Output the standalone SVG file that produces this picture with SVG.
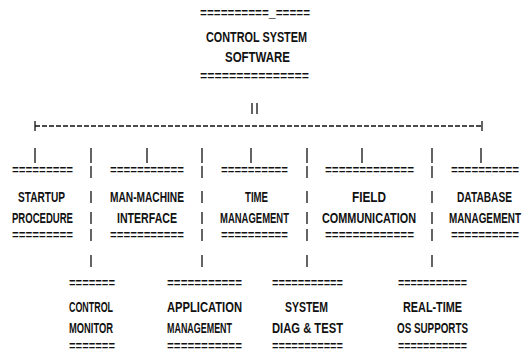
<svg xmlns="http://www.w3.org/2000/svg" width="527" height="354" viewBox="0 0 527 354">
<style>
.t{font-family:"Liberation Sans",Arial,sans-serif;font-size:14px;font-weight:bold;fill:#111}
.eq{font-family:"Liberation Mono","Courier New",monospace;font-size:12px;font-weight:bold;fill:#111}
.c{stroke:#111;stroke-width:1.3;fill:none}
.d{stroke:#111;stroke-width:1.3;fill:none;stroke-dasharray:5 2}
</style>
<rect width="527" height="354" fill="#fff"/>
<g id="connectors">
<path class="c" d="M252 103V114M257 103V114"/>
<path class="d" d="M35 126H482"/>
<path class="c" d="M35 121V131M482 121V131"/>
<path class="c" d="M35 148V163M147 148V163M251 148V163M362 148V163M481 148V163"/>
<path class="c" d="M91 148V163M91 166V178M91 191V203M91 212V224M91 229V241M91 255V267"/>
<path class="c" d="M202 148V163M202 166V178M202 191V203M202 212V224M202 229V241M202 255V267"/>
<path class="c" d="M307 148V163M307 166V178M307 191V203M307 212V224M307 229V241M307 255V267"/>
<path class="c" d="M432 148V163M432 166V178M432 191V203M432 212V224M432 229V241M432 255V267"/>
</g>
<g id="n-root">
<text class="eq" x="200" y="17" textLength="110" lengthAdjust="spacingAndGlyphs">==========_=====</text>
<text class="t" x="206" y="42" textLength="101" lengthAdjust="spacingAndGlyphs">CONTROL SYSTEM</text>
<text class="t" x="225" y="62" textLength="65" lengthAdjust="spacingAndGlyphs">SOFTWARE</text>
<text class="eq" x="200" y="80" textLength="109" lengthAdjust="spacingAndGlyphs">===============</text>
</g>
<g id="n-startup">
<text class="eq" x="12" y="174" textLength="61" lengthAdjust="spacingAndGlyphs">=========</text>
<text class="t" x="18" y="202" textLength="47" lengthAdjust="spacingAndGlyphs">STARTUP</text>
<text class="t" x="12" y="223" textLength="61" lengthAdjust="spacingAndGlyphs">PROCEDURE</text>
<text class="eq" x="12" y="239" textLength="61" lengthAdjust="spacingAndGlyphs">=========</text>
</g>
<g id="n-mmi">
<text class="eq" x="110" y="174" textLength="74" lengthAdjust="spacingAndGlyphs">===========</text>
<text class="t" x="110" y="202" textLength="74" lengthAdjust="spacingAndGlyphs">MAN-MACHINE</text>
<text class="t" x="117" y="223" textLength="60" lengthAdjust="spacingAndGlyphs">INTERFACE</text>
<text class="eq" x="110" y="239" textLength="74" lengthAdjust="spacingAndGlyphs">===========</text>
</g>
<g id="n-time">
<text class="eq" x="221" y="174" textLength="67" lengthAdjust="spacingAndGlyphs">==========</text>
<text class="t" x="245" y="202" textLength="23" lengthAdjust="spacingAndGlyphs">TIME</text>
<text class="t" x="220" y="223" textLength="69" lengthAdjust="spacingAndGlyphs">MANAGEMENT</text>
<text class="eq" x="221" y="239" textLength="67" lengthAdjust="spacingAndGlyphs">==========</text>
</g>
<g id="n-field">
<text class="eq" x="325" y="174" textLength="89" lengthAdjust="spacingAndGlyphs">=============</text>
<text class="t" x="352" y="202" textLength="34" lengthAdjust="spacingAndGlyphs">FIELD</text>
<text class="t" x="322" y="223" textLength="94" lengthAdjust="spacingAndGlyphs">COMMUNICATION</text>
<text class="eq" x="325" y="239" textLength="89" lengthAdjust="spacingAndGlyphs">=============</text>
</g>
<g id="n-database">
<text class="eq" x="451" y="174" textLength="68" lengthAdjust="spacingAndGlyphs">==========</text>
<text class="t" transform="scale(0.7,1)" x="652.86" y="202" textLength="78.57" lengthAdjust="spacingAndGlyphs">DATABASE</text>
<text class="t" transform="scale(0.7,1)" x="641.43" y="223" textLength="102.86" lengthAdjust="spacingAndGlyphs">MANAGEMENT</text>
<text class="eq" x="451" y="239" textLength="68" lengthAdjust="spacingAndGlyphs">==========</text>
</g>
<g id="n-control-monitor">
<text class="eq" x="69" y="287" textLength="46" lengthAdjust="spacingAndGlyphs">=======</text>
<text class="t" x="69" y="312" textLength="44" lengthAdjust="spacingAndGlyphs">CONTROL</text>
<text class="t" x="69" y="333" textLength="44" lengthAdjust="spacingAndGlyphs">MONITOR</text>
<text class="eq" x="69" y="350" textLength="46" lengthAdjust="spacingAndGlyphs">=======</text>
</g>
<g id="n-application">
<text class="eq" x="167" y="287" textLength="75" lengthAdjust="spacingAndGlyphs">===========</text>
<text class="t" x="167" y="312" textLength="75" lengthAdjust="spacingAndGlyphs">APPLICATION</text>
<text class="t" x="167" y="333" textLength="65" lengthAdjust="spacingAndGlyphs">MANAGEMENT</text>
<text class="eq" x="167" y="350" textLength="75" lengthAdjust="spacingAndGlyphs">===========</text>
</g>
<g id="n-system-diag">
<text class="eq" x="272" y="287" textLength="71" lengthAdjust="spacingAndGlyphs">===========</text>
<text class="t" x="285" y="312" textLength="43" lengthAdjust="spacingAndGlyphs">SYSTEM</text>
<text class="t" x="272" y="333" textLength="71" lengthAdjust="spacingAndGlyphs">DIAG &amp; TEST</text>
<text class="eq" x="272" y="350" textLength="71" lengthAdjust="spacingAndGlyphs">===========</text>
</g>
<g id="n-realtime">
<text class="eq" x="398" y="287" textLength="69" lengthAdjust="spacingAndGlyphs">===========</text>
<text class="t" x="403" y="312" textLength="59" lengthAdjust="spacingAndGlyphs">REAL-TIME</text>
<text class="t" x="397" y="333" textLength="71" lengthAdjust="spacingAndGlyphs">OS SUPPORTS</text>
<text class="eq" x="398" y="350" textLength="69" lengthAdjust="spacingAndGlyphs">===========</text>
</g>
</svg>
